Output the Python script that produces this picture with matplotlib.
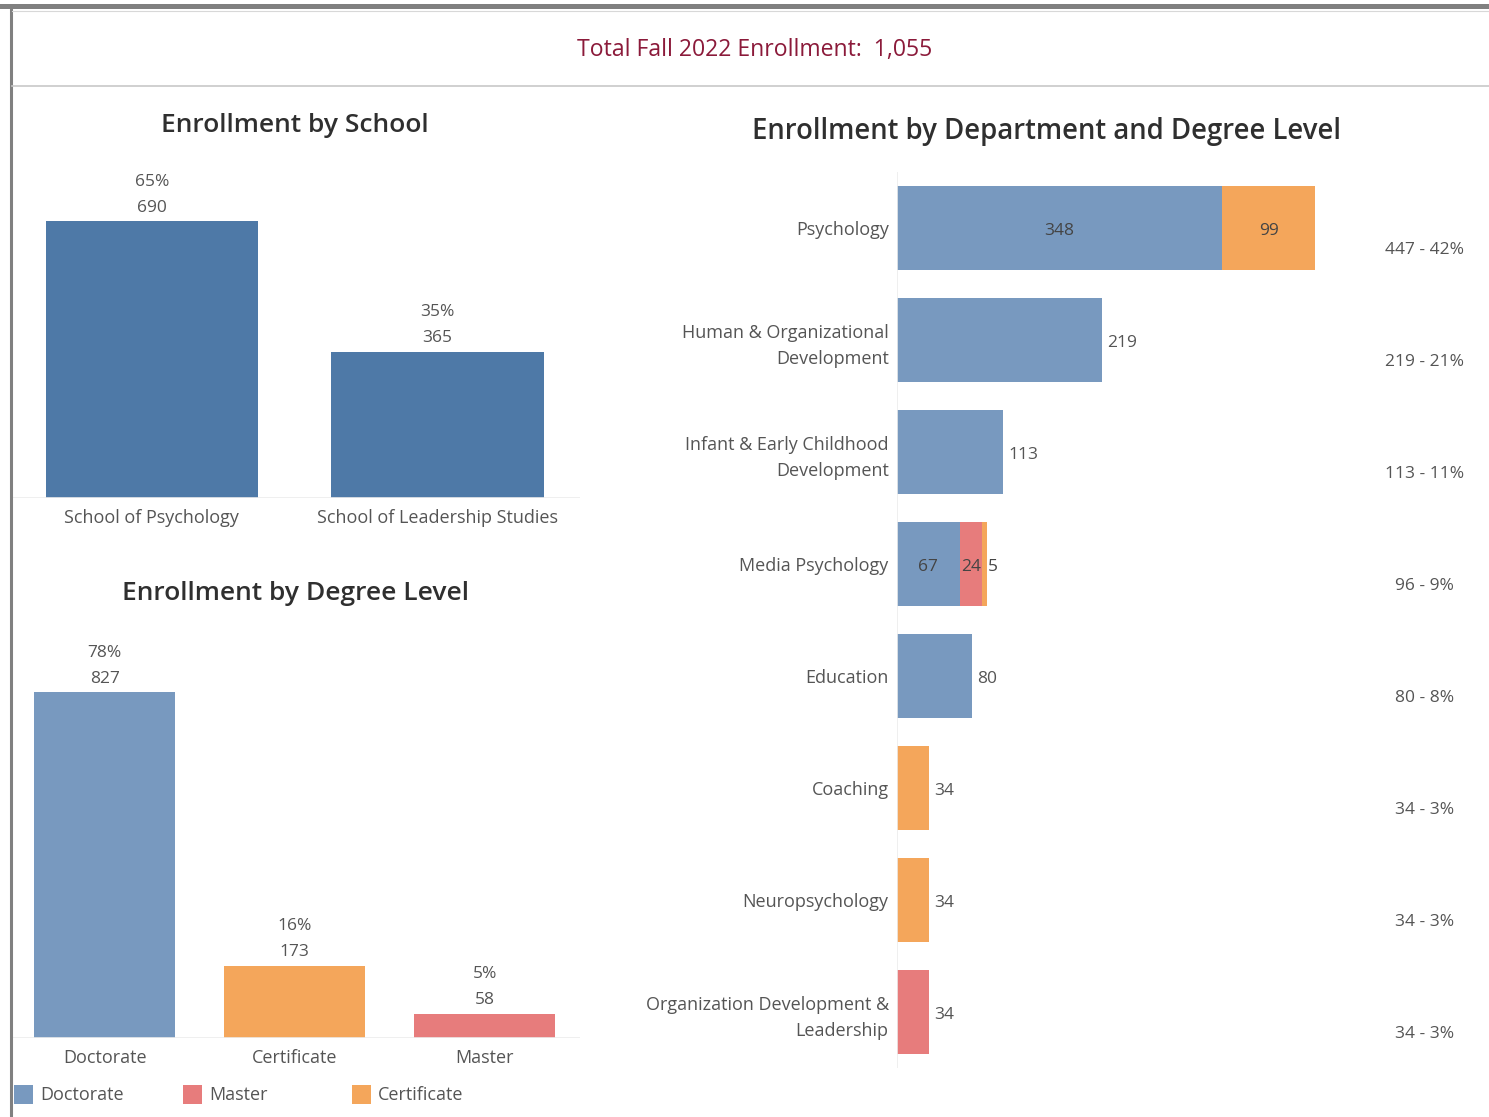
import matplotlib
matplotlib.use("Agg")
import matplotlib.pyplot as plt
from matplotlib.lines import Line2D
from matplotlib.patches import Rectangle
import numpy as np

plt.rcParams['font.family'] = ['Open Sans', 'DejaVu Sans']

total_enrollment = 1055

schools = ["School of Psychology", "School of Leadership Studies"]
school_counts = [690, 365]

degrees = ["Doctorate", "Certificate", "Master"]
degree_counts = [827, 173, 58]

departments = [
    "Psychology",
    "Human & Organizational\nDevelopment",
    "Infant & Early Childhood\nDevelopment",
    "Media Psychology",
    "Education",
    "Coaching",
    "Neuropsychology",
    "Organization Development &\nLeadership",
]
dept_doctorate = [348, 219, 113, 67, 80, 0, 0, 0]
dept_master = [0, 0, 0, 24, 0, 0, 0, 34]
dept_certificate = [99, 0, 0, 5, 0, 34, 34, 0]

SCHOOL_BLUE = "#4e79a7"
COLORS = {"Doctorate": "#7899bf", "Master": "#e77c7c", "Certificate": "#f4a65b"}
TXT = "#555555"
TITLE = "#2f2f2f"
GRID = "#ececec"

W, H = 1489, 1117
fig = plt.figure(figsize=(W / 100, H / 100), dpi=100)


def fx(x):
    return x / W


def fy(y):
    return 1 - y / H


def add_axes_px(x0, y0, x1, y1):
    return fig.add_axes([fx(x0), fy(y1), fx(x1 - x0), (y1 - y0) / H])


# frame and header
fig.add_artist(Rectangle((0, fy(9)), 1, 5 / H, transform=fig.transFigure,
                         color="#808080", lw=0))
fig.add_artist(Line2D([fx(11), fx(11)], [0, fy(6)], transform=fig.transFigure,
                      color="#808080", lw=2.2))
fig.add_artist(Line2D([fx(12), 1], [fy(11), fy(11)], transform=fig.transFigure,
                      color="#d8d8d8", lw=0.8))
fig.add_artist(Line2D([fx(12), 1], [fy(86), fy(86)], transform=fig.transFigure,
                      color="#c8c8c8", lw=1.2))
fig.text(fx(755), fy(50), f"Total Fall 2022 Enrollment:  {total_enrollment:,}",
         ha="center", va="center", fontsize=16.6, color="#8b1a3a")


def clean(ax):
    for s in ax.spines.values():
        s.set_visible(False)
    ax.set_yticks([])
    ax.tick_params(length=0)


# Enrollment by School
fig.text(fx(295), fy(126), "Enrollment by School", ha="center", va="center",
         fontsize=19, color=TITLE, fontweight=600)
ax1 = add_axes_px(12, 160, 580, 498)
x1 = np.arange(len(schools))
ax1.bar(x1, school_counts, width=0.745, color=SCHOOL_BLUE)
ax1.set_xlim(-0.49, 1.5)
ax1.set_ylim(0, 843)
clean(ax1)
ax1.set_xticks(x1)
ax1.set_xticklabels(schools, fontsize=13, color=TXT)
ax1.tick_params(axis="x", pad=8)
ax1.axhline(0, color=GRID, lw=1.2)
for xi, v in zip(x1, school_counts):
    ax1.annotate(f"{round(v / total_enrollment * 100)}%\n{v}", (xi, v),
                 xytext=(0, 4), textcoords="offset points", ha="center", va="bottom",
                 fontsize=12.5, color=TXT, linespacing=1.85)

# Enrollment by Degree Level
fig.text(fx(295), fy(594), "Enrollment by Degree Level", ha="center", va="center",
         fontsize=19, color=TITLE, fontweight=600)
ax2 = add_axes_px(12, 635, 580, 1038)
x2 = np.arange(len(degrees))
ax2.bar(x2, degree_counts, width=0.742, color=[COLORS[d] for d in degrees])
ax2.set_xlim(-0.487, 2.5)
ax2.set_ylim(0, 964)
clean(ax2)
ax2.set_xticks(x2)
ax2.set_xticklabels(degrees, fontsize=13, color=TXT)
ax2.tick_params(axis="x", pad=8)
ax2.axhline(0, color=GRID, lw=1.2)
for xi, v in zip(x2, degree_counts):
    ax2.annotate(f"{round(v / total_enrollment * 100)}%\n{v}", (xi, v),
                 xytext=(0, 4), textcoords="offset points", ha="center", va="bottom",
                 fontsize=12.5, color=TXT, linespacing=1.85)

# legend
for lx, name in zip([14, 183, 352], ["Doctorate", "Master", "Certificate"]):
    fig.add_artist(Rectangle((fx(lx), fy(1104)), 19 / W, 19 / H,
                             transform=fig.transFigure, color=COLORS[name], lw=0))
    fig.text(fx(lx + 26), fy(1095), name, ha="left", va="center",
             fontsize=13, color=TXT)

# Enrollment by Department and Degree Level
fig.text(fx(1046), fy(132), "Enrollment by Department and Degree Level",
         ha="center", va="center", fontsize=19.8, color=TITLE, fontweight=600)
ax3 = add_axes_px(897, 172, 1340, 1068)
y3 = np.arange(len(departments))
doc = np.array(dept_doctorate)
mas = np.array(dept_master)
cer = np.array(dept_certificate)
segments = [("Doctorate", doc, np.zeros_like(doc)), ("Master", mas, doc),
            ("Certificate", cer, doc + mas)]
for name, vals, left in segments:
    ax3.barh(y3, vals, left=left, height=0.75, color=COLORS[name])
ax3.set_xlim(0, 474)
ax3.set_ylim(7.5, -0.5)
clean(ax3)
ax3.set_xticks([])
ax3.set_yticks(y3)
ax3.set_yticklabels(departments, fontsize=13, color=TXT, linespacing=1.6)
ax3.tick_params(axis="y", pad=6)
ax3.axvline(0, color=GRID, lw=1.2)

totals = doc + mas + cer
for i in y3:
    nseg = int(doc[i] > 0) + int(mas[i] > 0) + int(cer[i] > 0)
    for name, vals, left in segments:
        v = int(vals[i])
        if v == 0:
            continue
        l = int(left[i])
        if nseg == 1:
            ax3.annotate(str(v), (l + v, i), xytext=(4, -2), textcoords="offset points",
                         ha="left", va="center", fontsize=12.5, color=TXT)
        elif v < 15:
            # too narrow for an inside label: put it right after the bar
            ax3.annotate(str(v), (l + v, i), xytext=(1, -2), textcoords="offset points",
                         ha="left", va="center", fontsize=12.5, color="#444444")
        else:
            ax3.annotate(str(v), (l + v / 2, i), xytext=(0, -2), textcoords="offset points",
                         ha="center", va="center", fontsize=12.5, color="#444444")
    ax3.annotate(f"{totals[i]} - {round(totals[i] / total_enrollment * 100)}%",
                 (1.19, i), xycoords=("axes fraction", "data"), xytext=(0, -16),
                 textcoords="offset points", ha="center", va="center",
                 fontsize=12.5, color=TXT, annotation_clip=False)

fig.savefig("out.png", dpi=100, facecolor="white")
